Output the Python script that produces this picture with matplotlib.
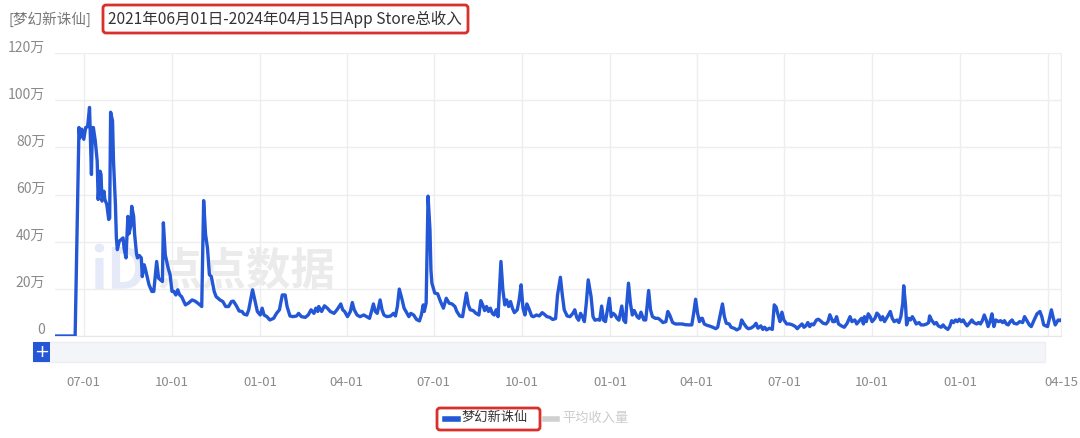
import numpy as np
import matplotlib
matplotlib.use("Agg")
import matplotlib.pyplot as plt
import matplotlib.transforms as mtransforms
from matplotlib.patches import FancyBboxPatch, Rectangle
from matplotlib.lines import Line2D

plt.rcParams['font.family'] = ['Noto Sans CJK SC', 'DejaVu Sans']

# ---------------- data ----------------
start_date = np.datetime64('2021-06-01')
end_date = np.datetime64('2024-04-15')

# days after 2021-06-01
day_offsets = [
    0, 21, 25, 26, 28, 30, 32, 34, 36, 38, 39, 40, 42, 44, 45, 47, 48, 49, 51, 52,
    54, 56, 57, 58, 60, 61, 63, 64, 65, 67, 69, 71, 72, 74, 76, 77, 79, 80, 82, 83,
    85, 86, 88, 90, 91, 93, 94, 96, 98, 101, 103, 106, 108, 110, 112, 113, 115, 118, 120, 122,
    124, 126, 128, 130, 132, 136, 139, 143, 146, 149, 152, 153, 155, 157, 159, 161, 163, 166, 168, 172,
    175, 178, 181, 184, 186, 189, 192, 195, 197, 200, 202, 206, 208, 211, 214, 216, 218, 221, 224, 228,
    231, 234, 237, 240, 242, 245, 248, 252, 254, 257, 261, 264, 267, 270, 272, 274, 275, 278, 281, 284,
    287, 291, 294, 298, 300, 302, 305, 308, 310, 312, 315, 318, 322, 325, 328, 330, 332, 334, 336, 339,
    341, 343, 346, 350, 353, 355, 357, 359, 362, 364, 366, 369, 371, 374, 377, 380, 382, 384, 385, 387,
    389, 391, 392, 393, 396, 399, 402, 405, 408, 411, 414, 417, 419, 422, 425, 427, 429, 431, 433, 436,
    439, 442, 444, 446, 448, 450, 452, 454, 456, 458, 460, 462, 465, 467, 469, 471, 473, 475, 477, 479,
    482, 484, 486, 488, 490, 492, 494, 497, 499, 502, 505, 508, 510, 513, 516, 519, 522, 524, 527, 529,
    531, 534, 537, 540, 542, 544, 546, 548, 550, 552, 554, 556, 559, 561, 563, 566, 568, 570, 572, 574,
    576, 578, 580, 582, 584, 586, 588, 591, 593, 595, 596, 598, 600, 602, 604, 607, 609, 611, 614, 616,
    618, 619, 621, 623, 626, 629, 632, 634, 637, 639, 641, 644, 647, 650, 654, 657, 661, 664, 666, 668,
    670, 672, 674, 675, 677, 680, 682, 686, 689, 691, 694, 696, 698, 700, 703, 705, 708, 711, 714, 716,
    718, 721, 723, 726, 729, 731, 733, 736, 738, 740, 742, 745, 748, 750, 752, 754, 756, 758, 760, 763,
    766, 769, 772, 774, 776, 779, 781, 783, 785, 787, 789, 791, 794, 796, 798, 801, 804, 806, 808, 811,
    813, 815, 817, 820, 823, 826, 829, 831, 834, 836, 838, 841, 843, 844, 846, 848, 850, 852, 855, 857,
    859, 861, 863, 865, 867, 869, 871, 873, 875, 878, 880, 882, 884, 885, 887, 888, 890, 892, 894, 896,
    898, 901, 903, 906, 909, 911, 912, 914, 917, 919, 921, 924, 926, 928, 931, 933, 935, 937, 939, 941,
    943, 945, 947, 949, 951, 954, 956, 958, 961, 963, 965, 967, 969, 971, 973, 975, 977, 979, 981, 984,
    986, 988, 990, 992, 994, 996, 998, 1000, 1003, 1006, 1009, 1011, 1013, 1016, 1018, 1021, 1024, 1027, 1029, 1031,
    1033, 1035, 1037, 1039, 1041, 1043, 1046, 1048, 1049,
]

# daily App Store revenue, unit: 万 (10k)
revenue_wan = [
    0, 0, 88.4, 84, 87.7, 83.4, 88.4, 88.7, 96.9, 68.5, 88.4, 88.4, 82.7, 74.2, 57.9, 69.9, 68.5, 57.2, 61.4, 57.9,
    55.8, 49.4, 50, 94.9, 91.2, 74.2, 55.8, 41.6, 36.6, 40.2, 40.9, 41.6, 37.3, 33.1, 50.7, 43.3, 46.6, 55.0, 50.7, 43.3,
    34.8, 33.1, 34.1, 33.1, 25.2, 30.2, 28.8, 25.2, 21.8, 18.9, 18.9, 31.6, 24.5, 23.8, 23.1, 48.0, 34.4, 28.8, 26, 18.9,
    18.9, 17.4, 19.6, 17.4, 16.7, 13.2, 13.9, 15.3, 14.8, 13.9, 12.9, 12.5, 57.4, 43, 37.3, 26, 25.2, 18.9, 16.7, 15.3,
    14.6, 12.5, 12.5, 14.6, 14.8, 12.9, 10.6, 10.4, 9.3, 8.9, 11.1, 19.6, 16.0, 10.4, 8.9, 11.8, 8.9, 8.2, 6.8, 7.5,
    9.6, 11.1, 17.4, 17.4, 12.5, 8.5, 8.2, 8.5, 9.6, 8.2, 7.9, 8.9, 11.1, 9.6, 11.8, 10.4, 12.5, 10.4, 12.8, 11.8,
    10.4, 9.6, 11.1, 13.6, 11.1, 10.4, 8.2, 10.4, 14.2, 11.1, 8.9, 8.2, 8.9, 8.2, 7.5, 10.4, 13.6, 10.4, 9.6, 15.3,
    11.1, 8.9, 8.2, 8.5, 9.6, 8.5, 12.5, 19.9, 15.3, 11.8, 10.4, 8.2, 9.6, 8.9, 7.0, 6.4, 8.9, 13.2, 10.4, 13.9,
    59.3, 45, 28, 22.4, 18.2, 17.9, 14.6, 11.8, 16.0, 13.9, 13.6, 12.5, 10.4, 8.5, 8.2, 13.2, 18.2, 13.2, 11.1, 10.8,
    9.6, 8.9, 15.0, 13.2, 10.8, 12.5, 10.4, 11.8, 9.6, 8.9, 11.1, 8.2, 31.6, 19.6, 13.2, 15.3, 12.5, 14.6, 11.8, 9.9,
    11.1, 15.3, 21.7, 11.8, 8.9, 13.6, 11.8, 8.5, 8.2, 8.9, 8.5, 9.9, 9.3, 8.2, 7.9, 7.0, 7.4, 17.4, 24.9, 17.4,
    11.1, 8.5, 8.2, 9.6, 11.1, 7.9, 6.7, 9.6, 8.2, 6.1, 13.9, 23.8, 16.7, 8.2, 6.7, 7.0, 6.7, 12.7, 6.7, 6.1,
    11.1, 16.0, 8.2, 9.6, 8.9, 7.5, 6.7, 12.7, 6.7, 5.7, 12.5, 22.4, 13.9, 8.9, 10.8, 8.2, 7.5, 10.1, 6.8, 6.8,
    15.3, 19.3, 11.1, 8.2, 7.5, 7.5, 6.5, 5.7, 6.1, 10.4, 8.9, 5.7, 5.1, 5.1, 5.1, 4.8, 4.7, 4.7, 9.7, 15.6,
    9.7, 6.1, 7.5, 7.5, 5.1, 4.5, 4.3, 3.7, 3.1, 3.7, 9.7, 13.6, 8.2, 5.4, 5.1, 3.7, 3.3, 2.6, 3.3, 6.8,
    5.4, 3.7, 3.1, 3.4, 4.3, 5.4, 3.3, 4.3, 2.8, 3.7, 2.6, 3.3, 2.8, 13.2, 12.2, 8.9, 6.1, 10.1, 6.8, 5.1,
    5.1, 4.7, 4.0, 3.1, 4.0, 5.1, 3.7, 4.3, 5.7, 4.0, 5.1, 4.7, 6.8, 7.1, 6.5, 5.4, 5.1, 6.1, 9.0, 6.1,
    6.1, 8.2, 5.1, 4.3, 3.7, 5.4, 8.2, 6.1, 6.8, 5.1, 6.1, 7.5, 5.1, 8.2, 6.1, 9.4, 8.2, 6.1, 7.5, 9.7,
    8.9, 6.8, 8.2, 6.1, 7.5, 8.9, 10.4, 7.5, 6.1, 6.8, 5.7, 8.2, 13.9, 21.3, 12.5, 4.7, 7.5, 6.8, 8.2, 6.8,
    5.1, 5.7, 4.7, 4.7, 5.1, 5.7, 8.5, 6.8, 5.1, 5.7, 4.3, 3.7, 4.7, 3.7, 2.8, 4.0, 6.5, 5.7, 6.8, 6.1,
    7.1, 6.1, 6.8, 5.4, 4.3, 5.7, 6.8, 5.7, 5.1, 5.7, 5.1, 6.5, 8.9, 6.8, 4.0, 6.1, 9.4, 4.0, 6.8, 6.1,
    6.5, 5.7, 6.5, 5.1, 4.7, 6.1, 6.8, 5.4, 5.1, 6.1, 5.7, 8.2, 6.8, 4.7, 4.0, 6.8, 9.4, 10.4, 8.2, 4.7,
    4.3, 4.0, 7.5, 11.1, 7.5, 4.7, 6.8, 6.5, 6.8,
]

y_ticks = [0, 20, 40, 60, 80, 100, 120]
y_tick_labels = ['0', '20万', '40万', '60万', '80万', '100万', '120万']
x_tick_dates = ['2021-07-01', '2021-10-01', '2022-01-01', '2022-04-01', '2022-07-01',
                '2022-10-01', '2023-01-01', '2023-04-01', '2023-07-01', '2023-10-01',
                '2024-01-01', '2024-04-15']
x_tick_labels = ['07-01', '10-01', '01-01', '04-01', '07-01', '10-01', '01-01',
                 '04-01', '07-01', '10-01', '01-01', '04-15']
x_minor_dates = ['2024-04-01']

app_name = '梦幻新诛仙'
title_text = '2021年06月01日-2024年04月15日App Store总收入'
legend_other = '平均收入量'

# ---------------- figure ----------------
W, H = 1080, 438
fig = plt.figure(figsize=(W / 100, H / 100), dpi=100)
fig.patch.set_facecolor('white')

ax_left, ax_right, ax_top, ax_bottom = 55, 1061, 53, 336
ax = fig.add_axes([ax_left / W, 1 - ax_bottom / H, (ax_right - ax_left) / W, (ax_bottom - ax_top) / H])

dates = start_date + np.array(day_offsets).astype('timedelta64[D]')
blue = '#2457d6'
ax.plot(dates, revenue_wan, color=blue, lw=2.4, solid_joinstyle='round', zorder=3)

ax.set_xlim(start_date, end_date)
ax.set_ylim(0, 120)

ax.set_yticks(y_ticks)
ax.set_yticklabels(y_tick_labels)
ax.set_xticks(np.array(x_tick_dates, dtype='datetime64[D]'))
ax.set_xticklabels(x_tick_labels)
ax.set_xticks(np.array(x_minor_dates, dtype='datetime64[D]'), minor=True)

ax.grid(True, which='both', color='#eeeeee', lw=1.0, zorder=0)
ax.set_axisbelow(True)
ax.tick_params(axis='both', which='both', length=0)
ax.tick_params(axis='y', labelsize=10, labelcolor='#8a8a8a', pad=7)
ax.tick_params(axis='x', labelsize=9.5, labelcolor='#8a8a8a', pad=29)
offset = mtransforms.ScaledTranslation(0, 7 / 100, fig.dpi_scale_trans)
for lab in ax.get_yticklabels():
    lab.set_transform(lab.get_transform() + offset)

for s in ['top', 'left']:
    ax.spines[s].set_visible(False)
ax.spines['bottom'].set_color('#e6e6e6')
ax.spines['right'].set_color('#eeeeee')

# watermark
ax.text(118 / W, 1 - 272 / H, 'iD', transform=fig.transFigure, fontsize=40, fontweight='bold',
        color='#e6eaf8', ha='center', va='center', zorder=1)
ax.text(247 / W, 1 - 272 / H, '点点数据', transform=fig.transFigure, fontsize=32, fontweight='bold',
        color='#ebebeb', ha='center', va='center', zorder=1)

# data-zoom slider
pix = mtransforms.IdentityTransform()
fig.add_artist(Rectangle((33, H - 362), 1012, 20, transform=pix, facecolor='#f4f5f8',
                         edgecolor='#eceef2', lw=1))
fig.add_artist(Rectangle((33, H - 362), 17, 20, transform=pix, facecolor=blue, edgecolor='none'))
fig.text(41.5 / W, 1 - 352 / H, '+', color='white', fontsize=13, ha='center', va='center',
         family='DejaVu Sans')

# title
fig.text(8 / W, 1 - 19 / H, '[' + app_name + ']', color='#777777', fontsize=10.5, va='center')
fig.text(108 / W, 1 - 19 / H, title_text, color='#333333', fontsize=11.2, va='center')
fig.add_artist(FancyBboxPatch((103, H - 33), 365, 28, boxstyle='round,pad=0,rounding_size=3',
                              transform=pix, facecolor='none', edgecolor='#d8302a', lw=2))

# legend
fig.add_artist(Line2D([445, 458], [H - 419, H - 419], transform=pix, color=blue, lw=4))
fig.text(462 / W, 1 - 418 / H, app_name, color='#333333', fontsize=9.5, va='center')
fig.add_artist(Line2D([545, 557], [H - 419, H - 419], transform=pix, color='#d0d0d0', lw=4))
fig.text(562 / W, 1 - 418 / H, legend_other, color='#cccccc', fontsize=9.5, va='center')
fig.add_artist(FancyBboxPatch((437, H - 430), 103, 22, boxstyle='round,pad=0,rounding_size=3',
                              transform=pix, facecolor='none', edgecolor='#d8302a', lw=2))

fig.savefig('out.png', dpi=100)
